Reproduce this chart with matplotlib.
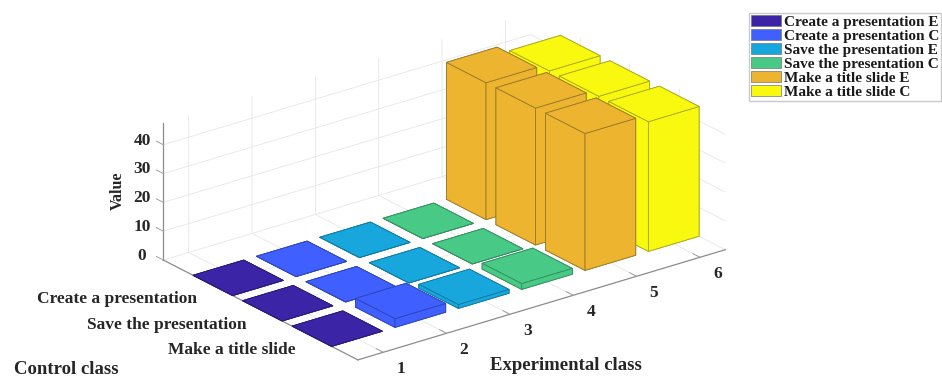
# bar3 style chart, classes vs tasks
import matplotlib
matplotlib.use('Agg')
import matplotlib.pyplot as plt
from matplotlib.patches import Patch
from matplotlib.transforms import ScaledTranslation

plt.rcParams['font.family'] = ['Liberation Serif', 'DejaVu Serif']
plt.rcParams['font.weight'] = 'bold'

# data
experimental_ticks = [1, 2, 3, 4, 5, 6]
control_ticks = [1, 2, 3]
control_labels = ['Create a presentation', 'Save the presentation', 'Make a title slide']
value_ticks = [0, 10, 20, 30, 40]
legend_names = ['Create a presentation E', 'Create a presentation C', 'Save the presentation E',
                'Save the presentation C', 'Make a title slide E', 'Make a title slide C']

create_e = [0, 0, 0]
create_c = [0, 0, 3]
save_e = [0, 0, 1.3]
save_c = [0, 0, 2]
title_e = [47.5, 47.5, 47.5]
title_c = [45, 45, 45]
series = [create_e, create_c, save_e, save_c, title_e, title_c]

colors = ['#3B24A6', '#3F5FFF', '#17A7DD', '#48C985', '#EDB42F', '#F9F90F']
edges = ['#2A1A78', '#2E45B8', '#107AA0', '#348F60', '#9A7A2A', '#A8A820']

fig = plt.figure(figsize=(9.42, 3.76), dpi=100)
W, H = 942.0, 376.0
S = 565.0
ax = fig.add_axes([154.2 / W, (H - 476.4) / H, S / W, S / H], projection='3d', proj_type='ortho')
ax.patch.set_alpha(0)
ax.computed_zorder = False
ax.view_init(elev=23.1, azim=-127.4)
ax.set_box_aspect((462, 320, 149))

# back to front so the bars cover each other properly
order = 1
for i in range(len(series) - 1, -1, -1):
    for j in range(len(control_ticks)):
        ax.bar3d(experimental_ticks[i] - 0.4, control_ticks[j] - 0.4, 0, 0.8, 0.8, series[i][j],
                 color=colors[i], edgecolor=edges[i], linewidth=0.6, shade=False, zorder=order)
        order += 1

ax.set_xlim(0.6, 6.4)
ax.set_ylim(3.93, 0)
ax.set_zlim(0, 47.6)
ax.set_xticks(experimental_ticks)
ax.set_yticks(control_ticks)
ax.set_yticklabels(control_labels, ha='right')
ax.set_zticks(value_ticks)

for axis in [ax.xaxis, ax.yaxis, ax.zaxis]:
    axis.set_pane_color((1, 1, 1, 0))
    axis.pane.set_edgecolor((1, 1, 1, 0))
    axis.line.set_color('#8c8c8c')
    axis.line.set_linewidth(0.9)
    axis._axinfo['grid']['color'] = '#e6e6e6'
    axis._axinfo['grid']['linewidth'] = 0.6
    axis._axinfo['tick']['color'] = '#a0a0a0'
    axis._axinfo['tick']['linewidth'] = {True: 0.7, False: 0.5}
    axis._axinfo['tick']['inward_factor'] = 0
ax.xaxis._axinfo['tick']['outward_factor'] = 0.45
ax.yaxis._axinfo['tick']['outward_factor'] = 0.2
ax.zaxis._axinfo['tick']['outward_factor'] = 0.45
# matlab has the value ticks pointing along the control class direction
ax.zaxis._get_tickdir = lambda pos: 1
ax.tick_params(axis='x', labelsize=12.5, labelcolor='#262626', pad=0, color='#a0a0a0')
ax.tick_params(axis='z', labelsize=12.5, labelcolor='#262626', pad=0, color='#a0a0a0')
ax.tick_params(axis='y', labelsize=12.5, labelcolor='#262626', pad=0, color='#a0a0a0')


# nudge the tick labels, Axis3D resets the transforms in get_major_ticks so wrap it
def shift_labels(axis, dx, dy):
    off = ScaledTranslation(dx / 100, dy / 100, fig.dpi_scale_trans)
    orig = axis.get_major_ticks

    def get_major_ticks(numticks=None):
        ticks = orig(numticks)
        for t in ticks:
            t.label1.set_transform(ax.transData + off)
        return ticks
    axis.get_major_ticks = get_major_ticks


shift_labels(ax.xaxis, 10, 0)
shift_labels(ax.yaxis, -2, 3.5)
shift_labels(ax.zaxis, 0, 12.5)

fig.text(14 / W, 1 - 369 / H, 'Control class', fontsize=13.5, color='#262626', va='center')
fig.text(490 / W, 1 - 365 / H, 'Experimental class', fontsize=13.5, color='#262626', va='center')
fig.text(118 / W, 1 - 191 / H, 'Value', fontsize=11.5, color='#262626', rotation=90, ha='center', va='center')

handles = [Patch(facecolor=c, edgecolor='#777777', linewidth=0.5) for c in colors]
leg = fig.legend(handles, legend_names, loc='upper left', bbox_to_anchor=(749 / W, 1 - 13 / H),
                 bbox_transform=fig.transFigure, fontsize=11, frameon=True, fancybox=False,
                 edgecolor='#bdbdbd', borderaxespad=0, borderpad=0.15, labelspacing=0.02,
                 handlelength=1.96, handleheight=0.7, handletextpad=0.15, labelcolor='#1a1a1a')

fig.savefig('out.png', dpi=100)
